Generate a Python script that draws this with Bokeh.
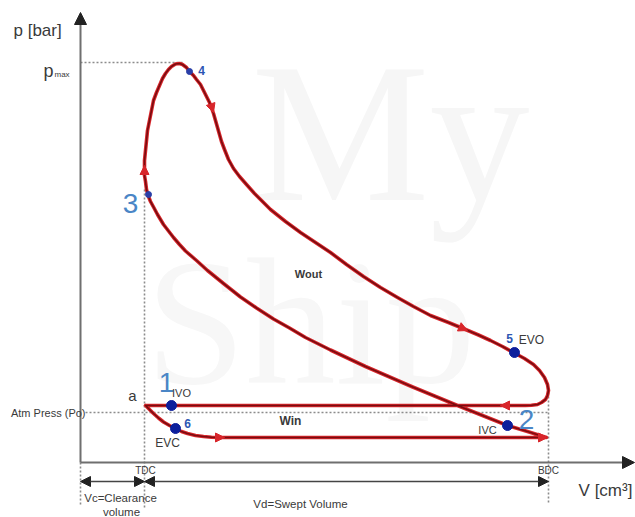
from bokeh.plotting import figure
from bokeh.models import Range1d, Arrow, NormalHead
from bokeh.embed import file_html
from bokeh.resources import INLINE
from bokeh.core.properties import value

# ---------------- data (schematic units) ----------------
# V measured from the V-axis origin, p measured from the p-axis origin
V_TDC = 64
V_BDC = 468
P_ATM = 50
P_MAX = 400

# a -> 6 (EVC) -> intake stroke -> BDC
intake_V = [65, 69, 73, 78, 83, 89, 95, 101, 107, 115, 123, 131, 140, 466]
intake_p = [57, 53, 49, 44.5, 40.5, 37, 34, 31, 29, 27, 26, 25.3, 25, 25]
# BDC -> 2 (IVC) -> compression -> 3
compression_V = [466, 447, 427, 402, 377, 354, 331, 308, 285, 268, 250, 238, 225, 209, 193, 176, 160, 143,
                 127, 116, 105, 99, 93, 88, 83, 80, 77, 73, 70, 68, 66]
compression_p = [25, 31, 37, 47, 57, 66.5, 76, 86, 96, 104, 112.5, 118.5, 125, 134.5, 143.5, 154.5, 165.5, 179,
                 192, 202, 211.5, 218, 225, 231.5, 238, 243, 248, 255.5, 261, 266, 273]
# 3 -> p_max -> 4
combustion_V = [66, 65, 64, 64, 64, 65, 66, 67, 69, 71, 73, 76, 79, 82, 85, 88, 91, 95, 99, 102, 106, 109]
combustion_p = [273, 281, 287, 295, 302, 312, 322, 332, 342, 352, 362, 370, 377, 384, 389, 393, 396, 398.5,
                399, 398, 395, 391]
# 4 -> expansion -> 5 (EVO) -> turn at BDC
expansion_V = [109, 113, 116, 120, 123, 126, 129, 131, 133, 135, 137, 139, 141, 144, 148, 153, 159, 166,
               174, 182, 190, 205, 220, 235, 250, 266, 283, 300, 317, 333, 350, 368, 385, 398, 410,
               422, 433, 444, 453, 459, 464, 467, 468, 467, 465, 461, 457, 451, 445]
expansion_p = [391, 387, 383, 378, 372, 366, 360, 354.5, 349, 342, 335, 328, 321, 313, 303, 294, 286, 278,
               269, 261, 253, 241, 230, 220, 210, 198, 186, 175, 165, 156, 147, 140, 133, 127.5, 122,
               116, 110, 104, 98, 92, 85, 78, 72, 67, 63, 60, 58, 57.2, 57]
# exhaust stroke back to a
exhaust_V = [445, 65]
exhaust_p = [57, 57]

# valve events (IVO, EVC, IVC, EVO) and state points 3, 4
valve_V = [91, 95, 427, 434]
valve_p = [57, 34, 37, 110]
state_V = [68, 109]
state_p = [268, 391]

# flow direction marks on the cycle: (V_from, p_from, V_to, p_to)
flow_marks = [
    (64, 289, 64, 297),
    (130, 359, 133, 350),
    (378, 136, 387, 132),
    (428, 57, 420, 57),
    (136, 25, 144, 25),
    (458, 25, 467, 25),
]

RED = "#d8262b"
DARK = "#7a0c10"
GREY_DOT = "#8c8c8c"
TXT = "#3a3a3a"
BIG_BLUE = "#4a86c6"
NUM_BLUE = "#2c56b3"
FONT = value("Liberation Sans")

p = figure(width=635, height=517, x_range=Range1d(-80, 555), y_range=Range1d(-55, 462),
           output_backend="svg", toolbar_location=None, min_border=0)
p.axis.visible = False
p.grid.visible = False
p.outline_line_color = None
p.background_fill_color = "white"

# faint watermark
p.text(x=[310], y=[330], text=["My"], text_font=value("Liberation Serif"), text_font_size="200px",
       text_color="#f6f6f6", text_align="center", text_baseline="middle")
p.text(x=[230], y=[140], text=["Ship"], text_font=value("Liberation Serif"), text_font_size="180px",
       text_color="#f7f7f7", text_align="center", text_baseline="middle")

# dotted guide lines
dot = dict(line_color=GREY_DOT, line_width=1.6, line_dash="2 2")
p.line([0, 102], [P_MAX, P_MAX], **dot)
p.line([5, V_BDC], [P_ATM, P_ATM], **dot)
p.line([V_TDC, V_TDC], [-45, 275], **dot)
p.line([V_BDC, V_BDC], [-40, 74], **dot)
p.line([0, 0], [0, -42], **dot)

# axes
p.line([0, 0], [0, 440], line_color="#6f6f6f", line_width=2)
p.line([0, 545], [0, 0], line_color="#6f6f6f", line_width=2)
p.add_layout(Arrow(end=NormalHead(size=12, fill_color="#222222", line_color="#222222"),
                   x_start=0, y_start=432, x_end=0, y_end=450, line_width=0, line_alpha=0))
p.add_layout(Arrow(end=NormalHead(size=12, fill_color="#222222", line_color="#222222"),
                   x_start=536, y_start=0, x_end=554, y_end=0, line_width=0, line_alpha=0))

# dimension arrows under the V axis
for a, b in [(0, V_TDC), (V_TDC, V_BDC)]:
    p.add_layout(Arrow(start=NormalHead(size=10, fill_color="#222222", line_color="#222222"),
                       end=NormalHead(size=10, fill_color="#222222", line_color="#222222"),
                       x_start=a, y_start=-19, x_end=b, y_end=-19,
                       line_color="#444444", line_width=1.5))

# the cycle
cycle_V = intake_V + compression_V[1:] + combustion_V[1:] + expansion_V[1:] + exhaust_V[1:]
cycle_p = intake_p + compression_p[1:] + combustion_p[1:] + expansion_p[1:] + exhaust_p[1:]
p.line(cycle_V, cycle_p, line_color=RED, line_width=3.6, line_join="round", line_cap="round")
p.line(cycle_V, cycle_p, line_color=DARK, line_width=1.6, line_join="round", line_cap="round")

for v0, p0, v1, p1 in flow_marks:
    p.add_layout(Arrow(end=NormalHead(size=9, fill_color=RED, line_color=RED),
                       x_start=v0, y_start=p0, x_end=v1, y_end=p1, line_alpha=0, line_width=0))

p.scatter(valve_V, valve_p, size=10, fill_color="#0d1f9c", line_color="#0d1f9c")
p.scatter(state_V, state_p, size=6, fill_color="#2a3fa8", line_color="#2a3fa8")

def label(x, y, t, size, color=TXT, style="normal", align="center", base="middle", font=FONT):
    p.text(x=[x], y=[y], text=[t], text_font=font, text_font_size=size, text_color=color,
           text_font_style=style, text_align=align, text_baseline=base)

label(-67, 432, "p [bar]", "17px", align="left")
label(-37, 392, "p", "18px", align="left", base="alphabetic")
label(-26, 388, "max", "8px", align="left", base="alphabetic")
label(5, 50, "Atm Press (Po)", "11px", align="right")
label(52, 67, "a", "15px")
label(86, 80, "1", "28px", color=BIG_BLUE)
label(101, 70, "IVO", "11px")
label(107, 39, "6", "12px", color=NUM_BLUE, style="bold")
label(87, 20, "EVC", "12px")
label(210, 42, "Win", "12px", style="bold")
label(228, 189, "Wout", "11px", style="bold")
label(407, 33, "IVC", "11px")
label(446, 43, "2", "28px", color=BIG_BLUE)
label(429, 124, "5", "12px", color=NUM_BLUE, style="bold")
label(451, 123, "EVO", "12px")
label(50, 259, "3", "28px", color=BIG_BLUE)
label(121, 392, "4", "12px", color=NUM_BLUE, style="bold")
label(65, -8, "TDC", "10px")
label(468, -8, "BDC", "10px")
label(40, -35, "Vc=Clearance", "11.5px")
label(41, -49, "volume", "11.5px")
label(220, -41, "Vd=Swept Volume", "11.5px")
label(525, -28, "V [cm³]", "17px")

open("out.html", "w").write(file_html(p, INLINE))
